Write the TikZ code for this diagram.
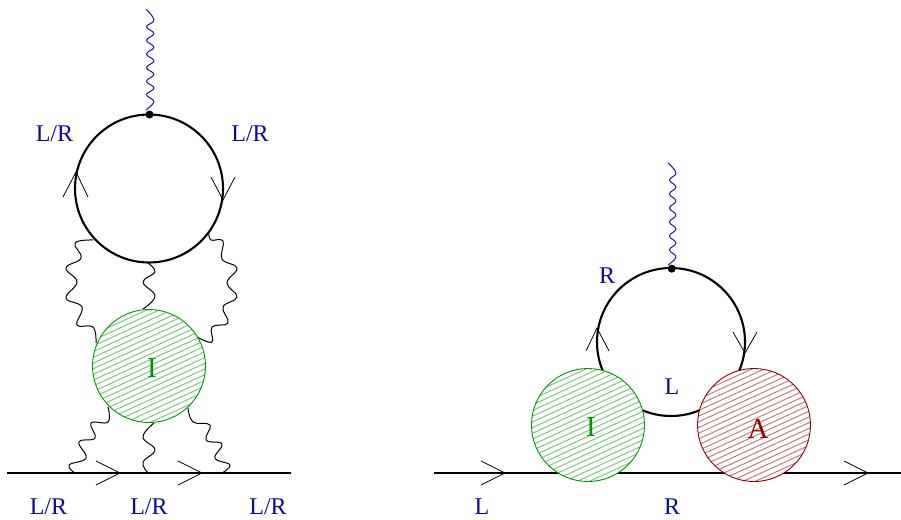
\documentclass[tikz,border=0pt]{standalone}
\usepackage{fontspec}
\setmainfont{Liberation Serif}
\definecolor{lblue}{RGB}{10,10,150}
\definecolor{pblue}{RGB}{20,20,170}
\definecolor{bgreen}{RGB}{0,150,0}
\definecolor{bred}{RGB}{140,0,0}
\tikzset{
  x=1pt,y=-1pt,
  lab/.style={text=lblue,font=\fontsize{24}{24}\selectfont,inner sep=0pt},
  loopc/.style={circle,draw=black,line width=2.1pt,minimum size=148pt,inner sep=0pt},
  hatched/.style={path picture={
    \foreach \k in {-16,...,16}{
      \draw[#1!55!white,line width=0.9pt]
        ([yshift=\k*5.7pt]path picture bounding box.center) ++(-70pt,-32pt) -- ++(140pt,64pt);
    }}},
  blob/.style={circle,draw=#1,fill=white,line width=0.9pt,minimum size=113pt,inner sep=0pt,hatched=#1},
  blobtext/.style={text=#1,font=\fontsize{29}{29}\selectfont,inner sep=0pt},
  fermion/.style={line width=2.1pt},
  gluon/.style={line width=1pt,line join=round},
  photon/.style={draw=pblue,line width=1pt,line join=round},
  chev/.style={line width=0.8pt},
  vert/.style={circle,fill=black,minimum size=8pt,inner sep=0pt},
}
\begin{document}
\begin{tikzpicture}
\useasboundingbox (0,0) rectangle (901,519);
% left diagram
\coordinate (la) at (7,473);
\coordinate (lb) at (291,473);
\draw[fermion] (la) -- (lb);
\node[loopc] (lloop) at (149,188.5) {};
\coordinate (lptop) at (146,9);
\node[vert] (lv) at (149.5,114.5) {};
\coordinate (lpbot) at (146,110);
\draw[photon] plot[smooth,tension=.7] coordinates {(lptop) (154,20) (146.5,26.8) (154,33.6) (146.5,40.4) (154,47.2) (146.5,54) (154,60.8) (146.5,67.6) (154,74.4) (146.5,81.2) (154,88) (146.5,94.8) (154,101.6) (lpbot)};
\coordinate (g1a) at (93,240);\coordinate (g1b) at (96,343);
\coordinate (g2a) at (148,263);\coordinate (g2b) at (143,309);
\coordinate (g3a) at (209,233);\coordinate (g3b) at (197,337);
\coordinate (g4a) at (108,407);\coordinate (g4b) at (75,473);
\coordinate (g5a) at (154,423);\coordinate (g5b) at (148,473);
\coordinate (g6a) at (188,408);\coordinate (g6b) at (222,473);
\draw[gluon] plot[smooth,tension=.7] coordinates {(g1a) (75,243) (81,258) (66,268) (77,282) (66,298) (82,307) (77,325) (93,327) (g1b)};
\draw[gluon] plot[smooth,tension=.7] coordinates {(g2a) (155,272) (143,282) (155,296) (g2b)};
\draw[gluon] plot[smooth,tension=.7] coordinates {(g3a) (211,240) (223,241) (222,259) (237,268) (227,283) (237,297) (223,307) (228,323) (212,327) (212,342) (g3b)};
\draw[gluon] plot[smooth,tension=.7] coordinates {(g4a) (108,422) (91,423) (95,438) (79,442) (86,458) (69,465) (g4b)};
\draw[gluon] plot[smooth,tension=.7] coordinates {(g5a) (143,437) (155,450) (143,462) (g5b)};
\draw[gluon] plot[smooth,tension=.7] coordinates {(g6a) (193,422) (210,425) (206,440) (222,444) (215,458) (230,465) (g6b)};
\node[blob=bgreen] (li) at (149,366) {};
\node[blobtext=bgreen] (lit) at (152,368) {I};
\foreach \t in {120,202}{
  \draw[chev] (\t-24,461) -- (\t,473) -- (\t-24,485);
}
\draw[chev] (63,197) -- (76,172) -- (88,197);
\draw[chev] (211,177) -- (223,200) -- (235,177);
\node[lab] (l1) at (54.5,134) {L/R};
\node[lab] (l2) at (250,134) {L/R};
\node[lab] (l3) at (48.5,507) {L/R};
\node[lab] (l4) at (149,507) {L/R};
\node[lab] (l5) at (268,507) {L/R};
% right diagram
\coordinate (ra) at (434,473);
\coordinate (rb) at (901,473);
\draw[fermion] (ra) -- (rb);
\node[loopc] (rloop) at (671,342) {};
\coordinate (rptop) at (668,163);
\node[vert] (rv) at (671.7,268.7) {};
\coordinate (rpbot) at (668,265);
\draw[photon] plot[smooth,tension=.7] coordinates {(rptop) (676,173) (669.5,180) (676,187) (669.5,194) (676,201) (669.5,208) (676,215) (669.5,222) (676,229) (669.5,236) (676,243) (669.5,250) (676,257) (rpbot)};
\node[blob=bgreen] (ri) at (588,425) {};
\node[blobtext=bgreen] (rit) at (591,427) {I};
\node[blob=bred] (ra2) at (754,425) {};
\node[blobtext=bred] (rat) at (758,429) {A};
\draw[chev] (586,351) -- (597,328) -- (609,351);
\draw[chev] (733,332) -- (745,353) -- (757,332);
\draw[chev] (481,461) -- (505,473) -- (481,485);
\draw[chev] (844,461) -- (868,473) -- (844,485);
\node[lab] (r1) at (607,276) {R};
\node[lab] (r2) at (672,387) {L};
\node[lab] (r3) at (482,507) {L};
\node[lab] (r4) at (672,507) {R};
\end{tikzpicture}
\end{document}
